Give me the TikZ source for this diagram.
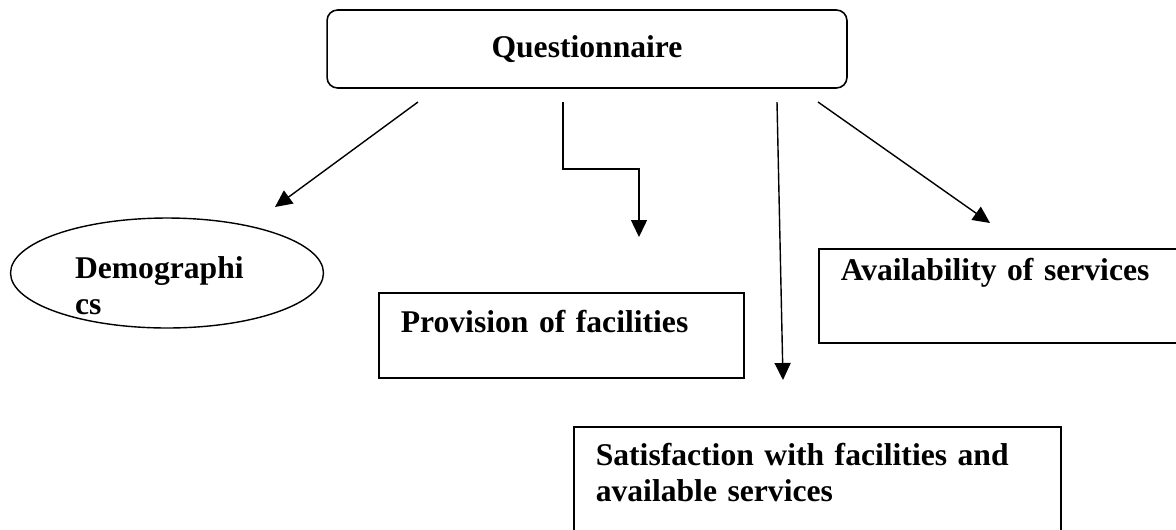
\documentclass[tikz,border=0pt]{standalone}
\usepackage{fontspec}
\setmainfont{Liberation Serif}
\usetikzlibrary{shapes.geometric, arrows.meta, positioning, calc}
\tikzset{
    title box/.style={rectangle, rounded corners=6pt, draw, line width=0.9pt, minimum width=10.4cm, minimum height=1.56cm, align=center, font=\bfseries\fontsize{18}{20.5}\selectfont},
    topic box/.style={rectangle, draw, line width=0.9pt, anchor=north west, align=left, inner xsep=0.44cm, inner ysep=0pt, font=\bfseries\fontsize{18}{20.5}\selectfont},
    topic oval/.style={ellipse, draw, line width=0.8pt, align=left, inner sep=0pt, minimum width=6.26cm, minimum height=2.2cm, font=\bfseries\fontsize{18}{21}\selectfont},
    link/.style={-{Triangle[length=0.34cm, width=0.32cm]}, line width=0.8pt}
}

\begin{document}
\begin{tikzpicture}[x=0.02cm, y=-0.02cm]
    \useasboundingbox (0,0) rectangle (1176,529);

    \node[title box] (quest) at (587,49) {Questionnaire};

    \node[topic oval, text width=3.68cm, text height=0.86cm, text depth=0.66cm] (demo) at (167,273) {Demographi\\cs};
    \node[topic box, text width=6.42cm, text height=0.8cm, text depth=0.9cm] (prov) at (378,292) {Provision of facilities};
    \node[topic box, text width=6.4cm, text height=0.64cm, text depth=1.24cm] (avail) at (818,248) {Availability of services};
    \node[topic box, text width=8.86cm, text height=0.78cm, text depth=3cm] (satis) at (573,426) {Satisfaction with facilities and\\available services};

    % arrow ends
    \coordinate (demo top) at (418,102);
    \coordinate (demo tip) at (275,207);
    \coordinate (prov top) at (563,102);
    \coordinate (prov bend) at (639,169);
    \coordinate (prov tip) at (639,237);
    \coordinate (satis top) at (777,102);
    \coordinate (satis tip) at (783,380);
    \coordinate (avail top) at (818,102);
    \coordinate (avail tip) at (990,223);

    \draw[link] (demo top) -- (demo tip);
    \draw[link] (prov top) |- (prov bend) -- (prov tip);
    \draw[link] (satis top) -- (satis tip);
    \draw[link] (avail top) -- (avail tip);
\end{tikzpicture}
\end{document}
